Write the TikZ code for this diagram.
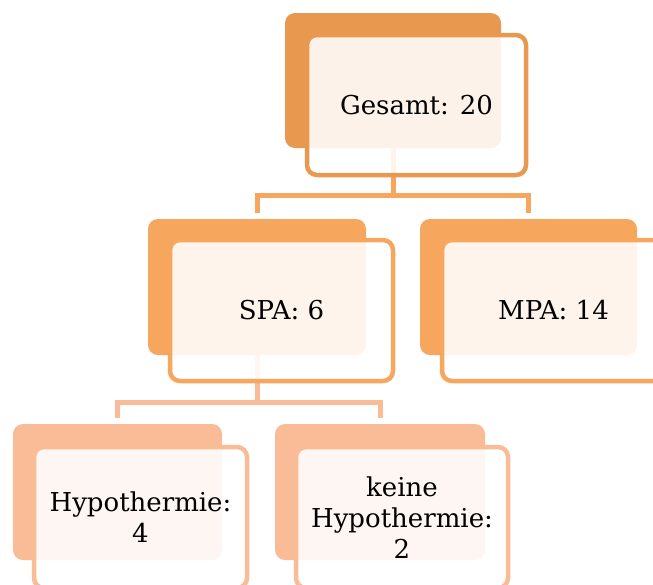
\documentclass[tikz,border=0pt]{standalone}
\usepackage{fontspec}
\setmainfont{DejaVu Serif}
\usetikzlibrary{calc}
\definecolor{cA}{RGB}{232,153,79}
\definecolor{cB}{RGB}{247,166,94}
\definecolor{cC}{RGB}{250,188,150}
\tikzset{
  backbox/.style={draw=none, rounded corners=10pt, anchor=north west, inner sep=0pt, outer sep=0pt, minimum height=136pt},
  frontbox/.style={line width=4.5pt, rounded corners=10pt, anchor=north west, inner sep=0pt, outer sep=0pt,
    fill=white, fill opacity=0.88, text opacity=1, text=black, minimum height=141pt, align=center,
    font=\fontsize{26}{31}\selectfont},
  conn/.style={line width=5pt}
}
\begin{document}
\begin{tikzpicture}[x=1pt,y=-1pt]
\useasboundingbox (0,0) rectangle (653,584);
\clip (0,0) rectangle (653,584);
% back boxes
\node[backbox, fill=cA, minimum width=216pt, minimum height=135pt] (b1) at (285,13) {};
\node[backbox, fill=cB, minimum width=218pt] (b2) at (148,219) {};
\node[backbox, fill=cB, minimum width=217pt] (b3) at (420,219) {};
\node[backbox, fill=cC, minimum width=209pt] (b4) at (13,424) {};
\node[backbox, fill=cC, minimum width=210pt] (b5) at (275,424) {};
% connectors
\coordinate (j1) at (b1.south |- 0,195);
\draw[conn, cB] (b1.south) -- (j1);
\draw[conn, cB] ($(b2.north)+(0,-6)$) |- (j1) -| ($(b3.north)+(0,-6)$);
\coordinate (j2) at (b2.south |- 0,402);
\draw[conn, cC] (b2.south) -- (j2);
\draw[conn, cC] ($(b4.north)+(0,-6)$) |- (j2) -| ($(b5.north)+(0,-6)$);
% front boxes
\node[frontbox, draw=cA, minimum width=219pt, minimum height=140pt] (f1) at (307,35) {Gesamt: 20};
\node[frontbox, draw=cB, minimum width=223pt] (f2) at (170,240) {SPA: 6};
\node[frontbox, draw=cB, minimum width=223pt] (f3) at (442,240) {MPA: 14};
\node[frontbox, draw=cC, minimum width=213pt] (f4) at (34,447) {Hypothermie:\\4};
\node[frontbox, draw=cC, minimum width=212pt] (f5) at (296,447) {keine\\Hypothermie:\\2};
\end{tikzpicture}
\end{document}
